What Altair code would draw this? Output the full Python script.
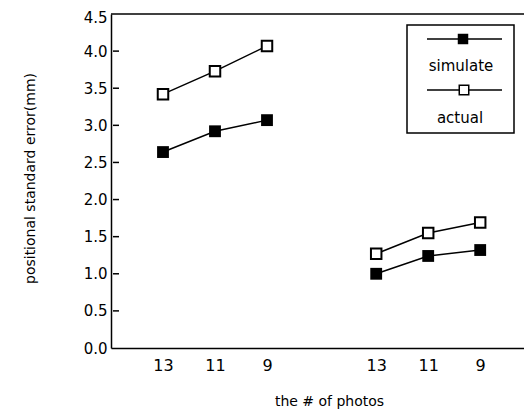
import altair as alt
import pandas as pd

# ---- data ----
photo_labels = ["13", "11", "9"]
group_offsets = [1.0, 5.1]          # slot offset of each group on the x axis
simulate_g1 = [2.64, 2.92, 3.07]
actual_g1 = [3.42, 3.73, 4.07]
simulate_g2 = [1.00, 1.24, 1.32]
actual_g2 = [1.27, 1.55, 1.69]
y_ticks = [0.0, 0.5, 1.0, 1.5, 2.0, 2.5, 3.0, 3.5, 4.0, 4.5]

rows = []
for g, (sim, act) in enumerate([(simulate_g1, actual_g1), (simulate_g2, actual_g2)]):
    for i, lab in enumerate(photo_labels):
        pos = group_offsets[g] + i
        rows.append({"pos": pos, "label": lab, "value": sim[i], "series": "simulate", "group": g})
        rows.append({"pos": pos, "label": lab, "value": act[i], "series": "actual", "group": g})
df = pd.DataFrame(rows)

tick_pos = [group_offsets[g] + i for g in range(2) for i in range(3)]
tick_lab = photo_labels * 2
expr = "''"
for p, l in zip(tick_pos, tick_lab):
    expr = f"abs(datum.value - {p}) < 0.01 ? '{l}' : ({expr})"

W, H = 413, 334
FONT = "DejaVu Sans"

xs = alt.Scale(domain=[0, 413 / 52], nice=False, zero=False)
ys = alt.Scale(domain=[0, 4.5], nice=False)

x_axis = alt.Axis(
    values=tick_pos, labelExpr=expr, ticks=False, grid=False,
    domainColor="black", domainWidth=1.5, labelFont=FONT, labelFontSize=16,
    labelColor="black", labelPadding=9, labelFlush=False,
    title="the # of photos", titleFont=FONT, titleFontSize=14, titleFontWeight="normal",
    titleColor="black", titleX=218, titleY=53, titleBaseline="middle", titleAlign="center")
y_axis = alt.Axis(
    values=y_ticks, format=".1f", ticks=False, grid=False,
    domainColor="black", domainWidth=1.5, labelFont=FONT, labelFontSize=15,
    labelColor="black", labelPadding=4, labelFlush=False,
    labelOffset=alt.ExprRef(expr="datum.value > 4.4 ? 3 : 0"),
    title="positional standard error(mm)", titleFont=FONT, titleFontSize=14,
    titleFontWeight="normal", titleColor="black", titleX=-81, titleY=164,
    titleBaseline="middle", titleAlign="center", titleAngle=270)

x_enc = alt.X("pos:Q", scale=xs, axis=x_axis)
y_enc = alt.Y("value:Q", scale=ys, axis=y_axis)

base = alt.Chart(df)

lines = base.mark_line(color="black", strokeWidth=1.5).encode(
    x=x_enc, y=y_enc, detail=["series:N", "group:N"])

sim_pts = base.transform_filter(alt.datum.series == "simulate").mark_square(
    color="black", size=140, opacity=1).encode(x=x_enc, y=y_enc)
act_pts = base.transform_filter(alt.datum.series == "actual").mark_point(
    shape="square", filled=True, fill="white", stroke="black", strokeWidth=2,
    size=110, opacity=1).encode(x=x_enc, y=y_enc)

tick_df = pd.DataFrame({"value": y_ticks[1:-1]})
yticks = alt.Chart(tick_df).mark_rule(color="black", strokeWidth=1.5).encode(
    y=y_enc, x=alt.value(2), x2=alt.value(8))

top = alt.Chart(pd.DataFrame({"a": [0]})).mark_rule(color="black", strokeWidth=1.5).encode(
    y=alt.value(0), x=alt.value(0), x2=alt.value(W))

# ---- legend box drawn by hand ----
leg = alt.Chart(pd.DataFrame({"a": [0]}))
box = leg.mark_rect(fill="white", stroke="black", strokeWidth=1.5).encode(
    x=alt.value(296), x2=alt.value(403), y=alt.value(11), y2=alt.value(119))
l1 = leg.mark_rule(color="black", strokeWidth=1.5).encode(
    x=alt.value(316), x2=alt.value(391), y=alt.value(25))
s1 = leg.mark_square(color="black", size=110, opacity=1).encode(
    x=alt.value(352), y=alt.value(25))
t1 = leg.mark_text(text="simulate", font=FONT, fontSize=15, color="black",
                   align="center", baseline="middle").encode(x=alt.value(350), y=alt.value(52))
l2 = leg.mark_rule(color="black", strokeWidth=1.5).encode(
    x=alt.value(316), x2=alt.value(391), y=alt.value(76))
s2 = leg.mark_point(shape="square", filled=True, fill="white", stroke="black",
                    strokeWidth=1.5, size=90, opacity=1).encode(x=alt.value(353), y=alt.value(76))
t2 = leg.mark_text(text="actual", font=FONT, fontSize=15, color="black",
                   align="center", baseline="middle").encode(x=alt.value(349), y=alt.value(104))

chart = alt.layer(lines, sim_pts, act_pts, yticks, top, box, l1, s1, t1, l2, s2, t2).properties(
    width=W, height=H,
    autosize=alt.AutoSizeParams(type="none"),
    padding={"left": 103, "top": 6, "right": 0, "bottom": 62},
    background="white",
).configure_view(stroke=None)

chart.save("out.html", embed_options={"renderer": "svg", "actions": False})
